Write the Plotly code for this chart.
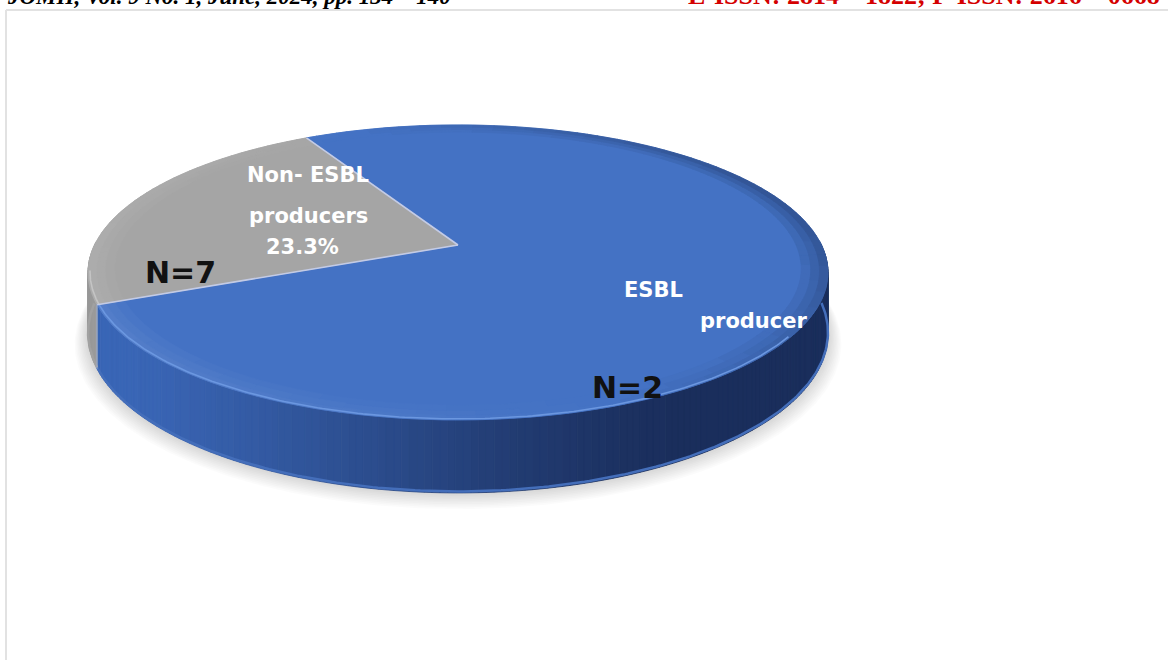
import numpy as np
import plotly.graph_objects as go

# ---- data ----
categories = ["ESBL producer", "Non- ESBL producers"]
percent = [76.7, 23.3]
n_counts = [2, 7]
slice_colors = ["#4472C4", "#A5A5A5"]
header_left = "JOMH, Vol. 9 No. 1, June, 2024, pp. 134 – 140"
header_right = "E-ISSN: 2814 – 1822; P-ISSN: 2616 – 0668"

# ---- page / pie geometry (pixel units) ----
W, HGT = 1168, 660
CX, CY = 458.0, 245.0        # projected centre of the top face
RX, RY = 363.5, 142.4        # horizontal / vertical radius of the top face
PERSP = 0.186                # perspective strength (near side larger)
DEPTH = 59.4                 # thickness of the disc
START = 119.0                # angle where the first slice starts (deg, ccw from 3 o'clock)

# side-wall shading (dark -> lit) for each slice
side_dark = [(26, 46, 92), (104, 104, 104)]
side_light = [(58, 102, 182), (156, 156, 156)]
rim_highlight = ["#6b97e0", "#c4c4c4"]


def proj(r, th_deg, z):
    t = np.radians(th_deg)
    u, v = r * np.cos(t), r * np.sin(t)
    s = 1.0 / (1.0 + PERSP * v)
    return CX + RX * u * s, CY - RY * v * s + DEPTH * z * s


def hex2rgb(h):
    h = h.lstrip("#")
    return tuple(int(h[i:i + 2], 16) for i in (0, 2, 4))


def rgb2hex(c):
    return "#%02x%02x%02x" % tuple(int(round(max(0, min(255, x)))) for x in c)


def lerp(a, b, t):
    return tuple(a[i] + (b[i] - a[i]) * t for i in range(3))


# slice angle ranges (clockwise from START)
spans = [p / sum(percent) * 360.0 for p in percent]
ranges = []
a = START
for sp in spans:
    ranges.append((a - sp, a))   # ccw parametrisation lo..hi
    a -= sp

fig = go.Figure()


def add_groups(groups):
    for col, polys in groups.items():
        xs, ys = [], []
        for px, py in polys:
            xs += list(px) + [px[0], None]
            ys += list(py) + [py[0], None]
        fig.add_trace(go.Scatter(x=xs, y=ys, mode="lines", fill="toself",
                                 fillcolor=col, line=dict(color=col, width=0.8),
                                 hoverinfo="skip", showlegend=False))


# soft shadow under the disc
th_all = np.linspace(0, 360, 361)
for k in range(10, 0, -1):
    sx, sy = proj(1.0 + 0.0035 * k, th_all, 1.0)
    fig.add_trace(go.Scatter(x=sx, y=sy + 0.8 * k, mode="lines", fill="toself",
                             fillcolor="rgba(0,0,0,0.014)", line=dict(width=0),
                             hoverinfo="skip", showlegend=False))

# side walls (front half only)
groups = {}
STEP = 1.0
for i, (lo, hi) in enumerate(ranges):
    n = max(2, int(np.ceil((hi - lo) / STEP)))
    ths = np.linspace(lo, hi, n + 1)
    for t0, t1 in zip(ths[:-1], ths[1:]):
        mid = (t0 + t1) / 2
        if np.sin(np.radians(mid)) >= 0.02:
            continue
        lit = max(0.0, np.cos(np.radians(mid - 212.0))) ** 1.6
        col = rgb2hex(lerp(side_dark[i], side_light[i], round(lit * 40) / 40))
        ax0, ay0 = proj(1, t0, 0)
        ax1, ay1 = proj(1, t1, 0)
        bx1, by1 = proj(1, t1, 1)
        bx0, by0 = proj(1, t0, 1)
        groups.setdefault(col, []).append(([ax0, ax1, bx1, bx0], [ay0, ay1, by1, by0]))
add_groups(groups)

# light bevel along the bottom edge of the wall
for i, (lo, hi) in enumerate(ranges):
    ths = np.linspace(lo, hi, 400)
    ths = ths[np.sin(np.radians(ths)) < 0]
    if len(ths) < 2:
        continue
    bx, by = proj(1, ths, 1)
    fig.add_trace(go.Scatter(x=bx, y=by - 1.5, mode="lines",
                             line=dict(color=rgb2hex(lerp(side_light[i], (255, 255, 255), 0.05)), width=2.5),
                             hoverinfo="skip", showlegend=False))

# top faces
for i, (lo, hi) in enumerate(ranges):
    ths = np.linspace(lo, hi, 400)
    tx, ty = proj(1, ths, 0)
    fig.add_trace(go.Scatter(x=np.r_[CX, tx, CX], y=np.r_[CY, ty, CY], mode="lines",
                             fill="toself", fillcolor=slice_colors[i],
                             line=dict(color=slice_colors[i], width=0.5),
                             hoverinfo="skip", showlegend=False))

# bevel shading round the rim of the top face
groups = {}
bands = [(0.93, 0.955, 0.33), (0.955, 0.978, 0.66), (0.978, 1.0, 1.0)]
for i, (lo, hi) in enumerate(ranges):
    base = hex2rgb(slice_colors[i])
    n = max(2, int(np.ceil((hi - lo) / 2.0)))
    ths = np.linspace(lo, hi, n + 1)
    for r0, r1, strength in bands:
        for t0, t1 in zip(ths[:-1], ths[1:]):
            d = np.cos(np.radians((t0 + t1) / 2 - 200.0)) * strength
            d = round(d * 12) / 12
            if d >= 0:
                c = lerp(base, (255, 255, 255), 0.08 * d)
            else:
                c = lerp(base, (10, 20, 45), 0.30 * -d)
            col = rgb2hex(c)
            x0, y0 = proj(r0, t0, 0)
            x1, y1 = proj(r0, t1, 0)
            x2, y2 = proj(r1, t1, 0)
            x3, y3 = proj(r1, t0, 0)
            groups.setdefault(col, []).append(([x0, x1, x2, x3], [y0, y1, y2, y3]))
add_groups(groups)

# highlight on the front rim of the top face (lit side only)
for i, (lo, hi) in enumerate(ranges):
    ths = np.linspace(lo, hi, 400)
    ths = ths[(np.mod(ths, 360) > 190) & (np.mod(ths, 360) < 325)]
    if len(ths) < 2:
        continue
    hx, hy = proj(0.995, ths, 0)
    fig.add_trace(go.Scatter(x=hx, y=hy, mode="lines",
                             line=dict(color=rim_highlight[i], width=1.6),
                             hoverinfo="skip", showlegend=False))

# light edges between slices
for lo, hi in ranges:
    ex, ey = proj(1, hi, 0)
    fig.add_trace(go.Scatter(x=[CX, ex], y=[CY, ey], mode="lines",
                             line=dict(color="#c3cbe6", width=1.6),
                             hoverinfo="skip", showlegend=False))
    if np.sin(np.radians(hi)) < 0:
        bx, by = proj(1, hi, 1)
        fig.add_trace(go.Scatter(x=[ex, bx], y=[ey, by], mode="lines",
                                 line=dict(color="#9aa8c8", width=1.2),
                                 hoverinfo="skip", showlegend=False))

# ---- labels ----
LABEL_FONT = "DejaVu Sans"
name_pos = {  # (first word(s), last word) centres
    0: [(653, 290), (753, 321)],
    1: [(308, 175), (308, 216)],
}
pct_pos = {1: (302, 247)}
n_pos = {0: (627, 387), 1: (180, 272)}

annotations = []
for i, name in enumerate(categories):
    head, tail = name.rsplit(" ", 1)
    for txt, (x, y) in zip([head, tail], name_pos[i]):
        annotations.append(dict(x=x, y=y, xref="x", yref="y", text="<b>%s</b>" % txt,
                                showarrow=False, font=dict(family=LABEL_FONT, size=21, color="white")))
    if i in pct_pos:
        x, y = pct_pos[i]
        annotations.append(dict(x=x, y=y, xref="x", yref="y", text="<b>%.1f%%</b>" % percent[i],
                                showarrow=False, font=dict(family=LABEL_FONT, size=21, color="white")))
    x, y = n_pos[i]
    annotations.append(dict(x=x, y=y, xref="x", yref="y", text="<b>N=%d</b>" % n_counts[i],
                            showarrow=False, font=dict(family=LABEL_FONT, size=30, color="#111111")))

# running header of the page (partly above the top edge)
annotations.append(dict(x=5 / W, y=1 + 3 / HGT, xref="paper", yref="paper", xanchor="left",
                        yanchor="middle", showarrow=False, text="<b><i>%s</i></b>" % header_left,
                        font=dict(family="Liberation Serif", size=23, color="#000000")))
annotations.append(dict(x=686 / W, y=1 + 4 / HGT, xref="paper", yref="paper", xanchor="left",
                        yanchor="middle", showarrow=False, text="<b>%s</b>" % header_right,
                        font=dict(family="Liberation Serif", size=26, color="#d40000")))

# frame of the chart area
frame = [
    dict(type="line", xref="paper", yref="paper", x0=6 / W, x1=1.02, y0=1 - 10 / HGT, y1=1 - 10 / HGT,
         line=dict(color="#e2e2e2", width=2)),
    dict(type="line", xref="paper", yref="paper", x0=6 / W, x1=6 / W, y0=1 - 10 / HGT, y1=-0.02,
         line=dict(color="#e2e2e2", width=2)),
]

fig.update_layout(
    width=W, height=HGT,
    margin=dict(l=0, r=0, t=0, b=0),
    paper_bgcolor="white", plot_bgcolor="white",
    xaxis=dict(range=[0, W], visible=False, fixedrange=True),
    yaxis=dict(range=[HGT, 0], visible=False, fixedrange=True),
    annotations=annotations,
    shapes=frame,
    showlegend=False,
)

fig.write_html("out.html", config={"displayModeBar": False})
